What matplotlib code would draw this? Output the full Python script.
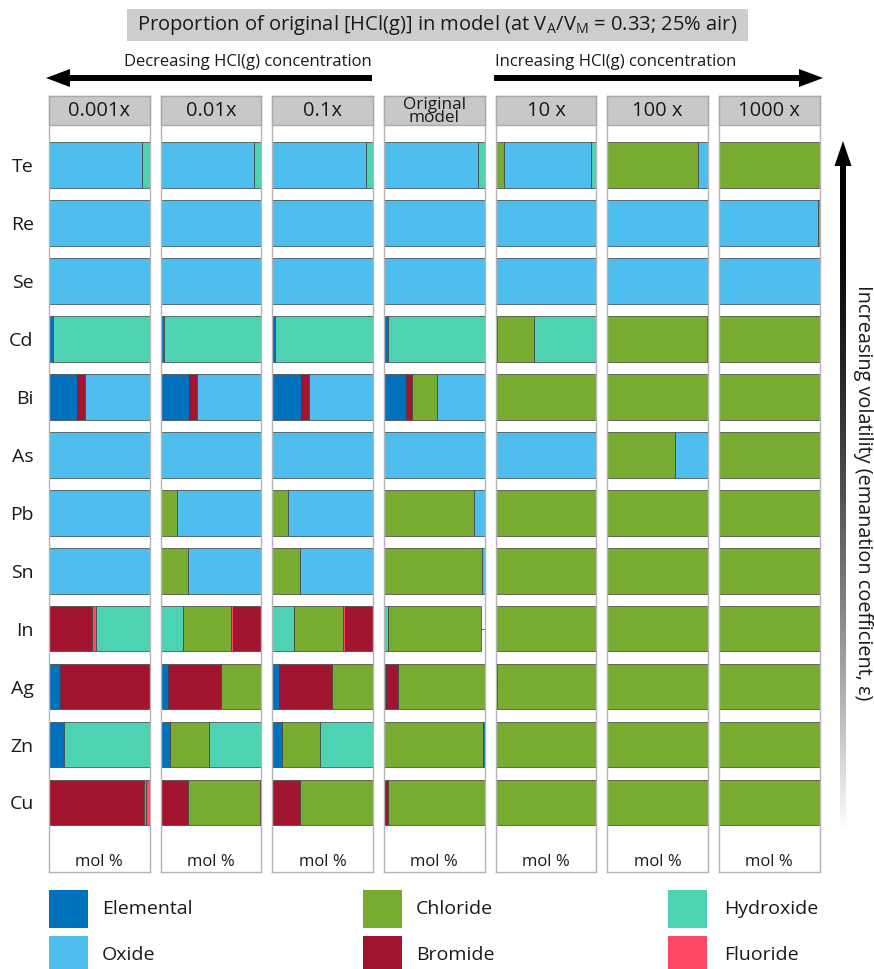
import matplotlib
matplotlib.use('Agg')
import matplotlib.pyplot as plt
from matplotlib.patches import Rectangle, Polygon
import numpy as np

plt.rcParams['font.family'] = ['Open Sans', 'DejaVu Sans']
plt.rcParams['mathtext.fontset'] = 'custom'
plt.rcParams['mathtext.rm'] = 'Open Sans'
plt.rcParams['mathtext.it'] = 'Open Sans:italic'

# ---------------- data ----------------
elements = ['Te', 'Re', 'Se', 'Cd', 'Bi', 'As', 'Pb', 'Sn', 'In', 'Ag', 'Zn', 'Cu']
panel_labels = ['0.001x', '0.01x', '0.1x', 'Original\nmodel', '10 x', '100 x', '1000 x']
species = ['Elemental', 'Oxide', 'Chloride', 'Bromide', 'Hydroxide', 'Fluoride']
species_colors = ['#0072BD', '#4DBEEE', '#77AC30', '#A2142F', '#4DD2B4', '#FF4766']

# segments (species, mol %) for each element, left to right
seg_0001 = [
    [('Oxide', 92), ('Hydroxide', 8)],
    [('Oxide', 100)],
    [('Oxide', 100)],
    [('Elemental', 3.5), ('Hydroxide', 96.5)],
    [('Elemental', 28), ('Bromide', 8), ('Oxide', 64)],
    [('Oxide', 100)],
    [('Oxide', 100)],
    [('Oxide', 100)],
    [('Bromide', 43), ('Fluoride', 3.5), ('Hydroxide', 53.5)],
    [('Elemental', 11), ('Bromide', 89)],
    [('Elemental', 15), ('Hydroxide', 85)],
    [('Bromide', 94.3), ('Chloride', 2.4), ('Fluoride', 3.3)],
]
seg_001 = [
    [('Oxide', 92.5), ('Hydroxide', 7.5)],
    [('Oxide', 100)],
    [('Oxide', 100)],
    [('Elemental', 3), ('Hydroxide', 97)],
    [('Elemental', 28.5), ('Bromide', 8), ('Oxide', 63.5)],
    [('Oxide', 100)],
    [('Chloride', 16), ('Oxide', 84)],
    [('Chloride', 27.5), ('Oxide', 72.5)],
    [('Hydroxide', 22), ('Chloride', 48), ('Fluoride', 2.3), ('Bromide', 27.7)],
    [('Elemental', 7), ('Bromide', 53), ('Chloride', 40)],
    [('Elemental', 9.7), ('Chloride', 38), ('Hydroxide', 52.3)],
    [('Bromide', 27), ('Chloride', 71.5), ('Bromide', 1.5)],
]
seg_01 = [
    [('Oxide', 93), ('Hydroxide', 7)],
    [('Oxide', 100)],
    [('Oxide', 100)],
    [('Elemental', 3), ('Hydroxide', 97)],
    [('Elemental', 28), ('Bromide', 8.4), ('Oxide', 63.6)],
    [('Oxide', 100)],
    [('Chloride', 15.7), ('Oxide', 84.3)],
    [('Chloride', 27.4), ('Oxide', 72.6)],
    [('Hydroxide', 22), ('Chloride', 48), ('Fluoride', 2.7), ('Bromide', 27.3)],
    [('Elemental', 6.7), ('Bromide', 53), ('Chloride', 40.3)],
    [('Elemental', 9.3), ('Chloride', 38), ('Hydroxide', 52.7)],
    [('Bromide', 27), ('Chloride', 73)],
]
seg_orig = [
    [('Oxide', 93.5), ('Hydroxide', 6.5)],
    [('Oxide', 100)],
    [('Oxide', 100)],
    [('Elemental', 4), ('Hydroxide', 96)],
    [('Elemental', 21.5), ('Bromide', 6.4), ('Chloride', 24.6), ('Oxide', 47.5)],
    [('Oxide', 100)],
    [('Chloride', 89), ('Oxide', 11)],
    [('Chloride', 97.5), ('Oxide', 2.5)],
    [('Hydroxide', 4.3), ('Chloride', 91.7)],
    [('Elemental', 1.5), ('Bromide', 12.5), ('Chloride', 86)],
    [('Chloride', 98.6), ('Elemental', 1.4)],
    [('Bromide', 4), ('Chloride', 96)],
]
seg_10 = [
    [('Chloride', 8.4), ('Oxide', 86), ('Hydroxide', 5.6)],
    [('Oxide', 100)],
    [('Oxide', 100)],
    [('Elemental', 1.5), ('Chloride', 36.5), ('Hydroxide', 62)],
    [('Chloride', 100)],
    [('Oxide', 100)],
    [('Chloride', 100)],
    [('Chloride', 100)],
    [('Chloride', 100)],
    [('Bromide', 1.5), ('Chloride', 98.5)],
    [('Chloride', 100)],
    [('Chloride', 100)],
]
seg_100 = [
    [('Chloride', 90), ('Oxide', 10)],
    [('Oxide', 100)],
    [('Oxide', 100)],
    [('Chloride', 98.7), ('Hydroxide', 1.3)],
    [('Chloride', 100)],
    [('Chloride', 67), ('Oxide', 33)],
    [('Chloride', 100)],
    [('Chloride', 100)],
    [('Chloride', 100)],
    [('Chloride', 100)],
    [('Chloride', 100)],
    [('Chloride', 100)],
]
seg_1000 = [
    [('Chloride', 100)],
    [('Oxide', 98), ('Chloride', 2)],
    [('Oxide', 100)],
    [('Chloride', 100)],
    [('Chloride', 100)],
    [('Chloride', 100)],
    [('Chloride', 100)],
    [('Chloride', 100)],
    [('Chloride', 100)],
    [('Chloride', 100)],
    [('Chloride', 100)],
    [('Chloride', 100)],
]
panels_data = [seg_0001, seg_001, seg_01, seg_orig, seg_10, seg_100, seg_1000]

# ---------------- layout ----------------
W, H = 874, 969
fig = plt.figure(figsize=(W / 100, H / 100), dpi=100)
cmap = dict(zip(species, species_colors))


def px_axes(x0, y0, x1, y1, **kw):
    return fig.add_axes([x0 / W, 1 - y1 / H, (x1 - x0) / W, (y1 - y0) / H], **kw)


panel_x0 = 49.0
panel_step = 111.67
panel_w = 100.6
panel_top, panel_bot = 96, 872
row0_px, row_step = 165.0, 57.95
hdr_h = 29
frame_col = '#b4b4b4'
txt_col = '#1a1a1a'

for p, (label, segs) in enumerate(zip(panel_labels, panels_data)):
    x0 = panel_x0 + p * panel_step
    ax = px_axes(x0, panel_top, x0 + panel_w, panel_bot)
    ax.set_xlim(0, 100)
    ax.set_ylim((panel_bot - row0_px) / row_step, (panel_top - row0_px) / row_step)
    for i, el_segs in enumerate(segs):
        left = 0.0
        for sp, val in el_segs:
            ax.barh(i, val, left=left, height=0.79, color=cmap[sp],
                    edgecolor='#3c3c3c', linewidth=0.5, zorder=2)
            left += val
    ax.set_xticks([])
    ax.set_yticks(range(len(elements)))
    ax.tick_params(axis='y', direction='in', length=3, width=0.6, color='#444444',
                   left=True, right=True, pad=11, labelsize=14, labelcolor=txt_col)
    if p == 0:
        ax.set_yticklabels(elements)
    else:
        ax.set_yticklabels([])
    for s in ax.spines.values():
        s.set_color(frame_col)
        s.set_linewidth(1.0)
    hh = hdr_h / (panel_bot - panel_top)
    ax.add_patch(Rectangle((0, 1 - hh), 1, hh, transform=ax.transAxes,
                           facecolor='#c8c8c8', edgecolor='#a9a9a9', linewidth=1,
                           zorder=5, clip_on=False))
    if '\n' in label:
        ax.text(0.5, 1 - hh / 2 - 0.001, label, transform=ax.transAxes, ha='center', va='center',
                fontsize=12.3, linespacing=0.72, color=txt_col, zorder=6)
    else:
        ax.text(0.5, 1 - hh / 2, label, transform=ax.transAxes, ha='center', va='center',
                fontsize=14.5, color=txt_col, zorder=6)
    ax.text(0.5, 10 / (panel_bot - panel_top), 'mol %', transform=ax.transAxes,
            ha='center', va='center', fontsize=12, color=txt_col)

# overlay axes in pixel coordinates for decorations
ov = fig.add_axes([0, 0, 1, 1], zorder=10)
ov.set_xlim(0, W)
ov.set_ylim(H, 0)
ov.axis('off')
ov.patch.set_alpha(0)

# title
ov.add_patch(Rectangle((127, 9), 748 - 127, 32, facecolor='#cdcdcd', edgecolor='none'))
ov.text(437, 25, r'Proportion of original [HCl(g)] in model (at V$_\mathrm{A}$/V$_\mathrm{M}$ = 0.33; 25% air)',
        ha='center', va='center', fontsize=14.5, color=txt_col)

# top arrows
ov.add_patch(Rectangle((66, 75), 372 - 66, 6, facecolor='black', edgecolor='none'))
ov.add_patch(Polygon([(46, 78), (70, 69), (70, 87)], closed=True, facecolor='black', edgecolor='none'))
ov.add_patch(Rectangle((494, 75), 800 - 494, 6, facecolor='black', edgecolor='none'))
ov.add_patch(Polygon([(823, 78), (799, 69), (799, 87)], closed=True, facecolor='black', edgecolor='none'))
ov.text(248, 62, 'Decreasing HCl(g) concentration', ha='center', va='center', fontsize=12, color=txt_col)
ov.text(616, 62, 'Increasing HCl(g) concentration', ha='center', va='center', fontsize=12, color=txt_col)

# vertical gradient arrow
grad = np.linspace(0, 1, 256) ** 1.6
grad = grad[:, None]
ov.imshow(grad, cmap='gray', vmin=0, vmax=1, extent=(840, 846, 832, 164),
          aspect='auto', zorder=3, interpolation='bilinear')
ov.set_xlim(0, W)
ov.set_ylim(H, 0)
ov.add_patch(Polygon([(843, 141), (834.5, 166), (851.5, 166)], closed=True, facecolor='black', edgecolor='none'))
ov.text(863, 493, 'Increasing volatility (emanation coefficient, ε)', rotation=-90,
        ha='center', va='center', fontsize=14.3, color=txt_col)

# legend
leg_cols = [(49, 102), (363, 416), (668, 724)]
leg_rows = [909, 955]
for k, (sp, col) in enumerate(zip(species, species_colors)):
    c = k // 2
    r = k % 2
    sx, tx = leg_cols[c]
    yc = leg_rows[r]
    ov.add_patch(Rectangle((sx, yc - 19), 39, 38, facecolor=col, edgecolor='none'))
    ov.text(tx, yc, sp, ha='left', va='center', fontsize=14, color=txt_col)

fig.savefig('out.png', dpi=100)
